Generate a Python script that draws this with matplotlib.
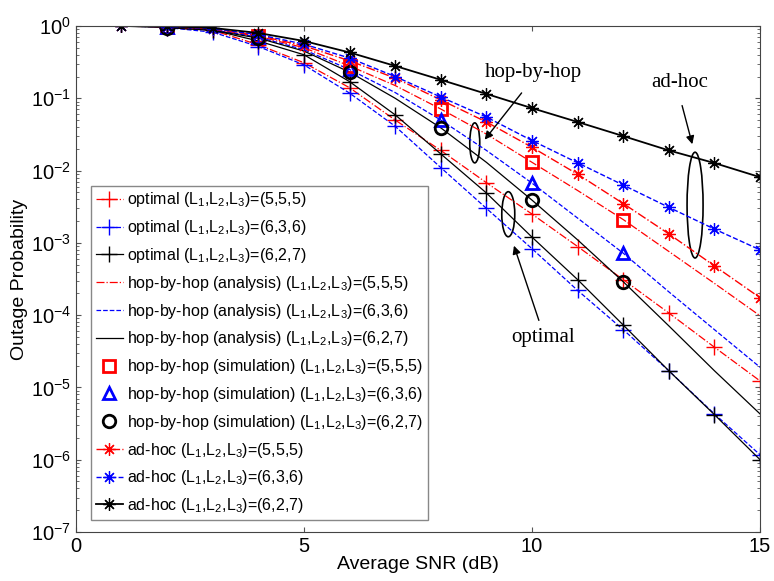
import matplotlib
matplotlib.use('Agg')
import matplotlib.pyplot as plt
from matplotlib.patches import Ellipse

plt.rcParams['font.family'] = ['Liberation Sans', 'DejaVu Sans']
plt.rcParams['mathtext.fontset'] = 'custom'
plt.rcParams['mathtext.rm'] = 'Liberation Sans'
plt.rcParams['mathtext.it'] = 'Liberation Sans:italic'

# SNR grids
snr_all = list(range(1, 16))
snr_opt = list(range(2, 16))
snr_sim = [2, 4, 6, 8, 10, 12]

# optimal
opt_555 = [0.95, 0.87, 0.55, 0.31, 0.14, 0.05, 0.019, 0.0068, 0.0025, 8.9e-4, 3.1e-4, 1.07e-4, 3.6e-5, 1.23e-5]
opt_636 = [0.95, 0.82, 0.52, 0.29, 0.118, 0.041, 0.011, 0.003, 8.3e-4, 2.2e-4, 6.3e-5, 1.7e-5, 4.3e-6, 1.17e-6]
opt_627 = [0.95, 0.88, 0.62, 0.40, 0.17, 0.059, 0.017, 0.0049, 0.0012, 3.1e-4, 7.3e-5, 1.7e-5, 4.2e-6, 1.0e-6]

# hop-by-hop analysis
hop_555 = [0.995, 0.97, 0.90, 0.72, 0.50, 0.28, 0.15, 0.071, 0.032, 0.013, 0.0053, 0.0021, 7.6e-4, 2.75e-4, 9.8e-5]
hop_636 = [0.995, 0.97, 0.89, 0.70, 0.47, 0.25, 0.12, 0.050, 0.019, 0.0067, 0.0022, 7.2e-4, 2.1e-4, 6.3e-5, 1.9e-5]
hop_627 = [0.995, 0.95, 0.87, 0.68, 0.45, 0.23, 0.10, 0.039, 0.013, 0.0039, 0.0011, 2.9e-4, 7.1e-5, 1.7e-5, 4.3e-6]

# hop-by-hop simulation
sim_555 = [0.97, 0.72, 0.28, 0.071, 0.013, 0.0021]
sim_636 = [0.97, 0.70, 0.25, 0.050, 0.0067, 7.2e-4]
sim_627 = [0.95, 0.68, 0.23, 0.039, 0.0039, 2.9e-4]

# ad-hoc
adh_555 = [1.0, 0.98, 0.91, 0.74, 0.53, 0.33, 0.19, 0.095, 0.047, 0.021, 0.0089, 0.0035, 0.00133, 0.00048, 0.000174]
adh_636 = [1.0, 0.98, 0.92, 0.76, 0.56, 0.36, 0.20, 0.104, 0.055, 0.026, 0.0128, 0.0063, 0.0031, 0.00155, 0.0008]
adh_627 = [1.0, 0.99, 0.94, 0.80, 0.62, 0.43, 0.28, 0.18, 0.115, 0.073, 0.047, 0.030, 0.019, 0.0127, 0.0081]

L = r'(L$_1$,L$_2$,L$_3$)'
star = (8, 2, 0)

fig = plt.figure(figsize=(7.74, 5.81), dpi=100)
ax = fig.add_axes([0.098, 0.0843, 0.884, 0.871])

ax.plot(snr_opt, opt_555, 'r-.', marker='+', ms=11, lw=0.9, label='optimal ' + L + '=(5,5,5)')
ax.plot(snr_opt, opt_636, 'b--', marker='+', ms=11, lw=0.9, label='optimal ' + L + '=(6,3,6)')
ax.plot(snr_opt, opt_627, 'k-', marker='+', ms=11, lw=0.9, label='optimal ' + L + '=(6,2,7)')

ax.plot(snr_all, hop_555, 'r-.', lw=0.9, label='hop-by-hop (analysis) ' + L + '=(5,5,5)')
ax.plot(snr_all, hop_636, 'b--', lw=0.9, label='hop-by-hop (analysis) ' + L + '=(6,3,6)')
ax.plot(snr_all, hop_627, 'k-', lw=0.9, label='hop-by-hop (analysis) ' + L + '=(6,2,7)')

ax.plot(snr_sim, sim_555, 's', color='red', mfc='none', mew=2, ms=9, ls='none', label='hop-by-hop (simulation) ' + L + '=(5,5,5)')
ax.plot(snr_sim, sim_636, '^', color='blue', mfc='none', mew=2, ms=9, ls='none', label='hop-by-hop (simulation) ' + L + '=(6,3,6)')
ax.plot(snr_sim, sim_627, 'o', color='black', mfc='none', mew=2, ms=9, ls='none', label='hop-by-hop (simulation) ' + L + '=(6,2,7)')

ax.plot(snr_all, adh_555, 'r-.', marker=star, ms=9, mew=0.9, lw=1.0, label='ad-hoc ' + L + '=(5,5,5)')
ax.plot(snr_all, adh_636, 'b--', marker=star, ms=9, mew=0.9, lw=1.0, label='ad-hoc ' + L + '=(6,3,6)')
ax.plot(snr_all, adh_627, 'k-', marker=star, ms=9, mew=0.9, lw=1.3, label='ad-hoc ' + L + '=(6,2,7)')

ax.set_yscale('log')
ax.set_xlim(0, 15)
ax.set_ylim(1e-7, 1)
ax.set_xticks([0, 5, 10, 15])
ax.tick_params(which='both', direction='in', top=True, right=True, labelsize=14.5, color='#555555')
ax.tick_params(axis='x', which='minor', bottom=False, top=False)
for s in ax.spines.values():
    s.set_color('#444444')
ax.set_xlabel('Average SNR (dB)', fontsize=14, labelpad=0)
ax.set_ylabel('Outage Probability', fontsize=14, labelpad=2)

leg = ax.legend(loc='lower left', bbox_to_anchor=(0.022, 0.024), borderaxespad=0,
                fontsize=11.5, fancybox=False, edgecolor='#888888', framealpha=1,
                labelspacing=0.55, handlelength=1.7, handletextpad=0.25, borderpad=0.3)
leg.get_frame().set_linewidth(1.0)

# annotations
serif = ['Liberation Serif', 'DejaVu Serif']
ax.add_patch(Ellipse((0.583, 0.769), 0.0146, 0.079, transform=ax.transAxes, fill=False, ec='black', lw=1.2))
ax.add_patch(Ellipse((0.905, 0.646), 0.0234, 0.209, transform=ax.transAxes, fill=False, ec='black', lw=1.2))
ax.add_patch(Ellipse((0.632, 0.628), 0.019, 0.089, transform=ax.transAxes, fill=False, ec='black', lw=1.2))

ax.text(0.668, 0.909, 'hop-by-hop', transform=ax.transAxes, ha='center', va='center', fontsize=15, family=serif)
ax.annotate('', xy=(0.595, 0.771), xytext=(0.654, 0.872), xycoords='axes fraction',
            arrowprops=dict(arrowstyle='-|>', color='black', lw=1, mutation_scale=12))
ax.text(0.882, 0.889, 'ad-hoc', transform=ax.transAxes, ha='center', va='center', fontsize=15, family=serif)
ax.annotate('', xy=(0.902, 0.761), xytext=(0.885, 0.848), xycoords='axes fraction',
            arrowprops=dict(arrowstyle='-|>', color='black', lw=1, mutation_scale=12))
ax.text(0.683, 0.385, 'optimal', transform=ax.transAxes, ha='center', va='center', fontsize=15, family=serif)
ax.annotate('', xy=(0.639, 0.571), xytext=(0.678, 0.413), xycoords='axes fraction',
            arrowprops=dict(arrowstyle='-|>', color='black', lw=1, mutation_scale=12))

fig.savefig('out.png', dpi=100)
